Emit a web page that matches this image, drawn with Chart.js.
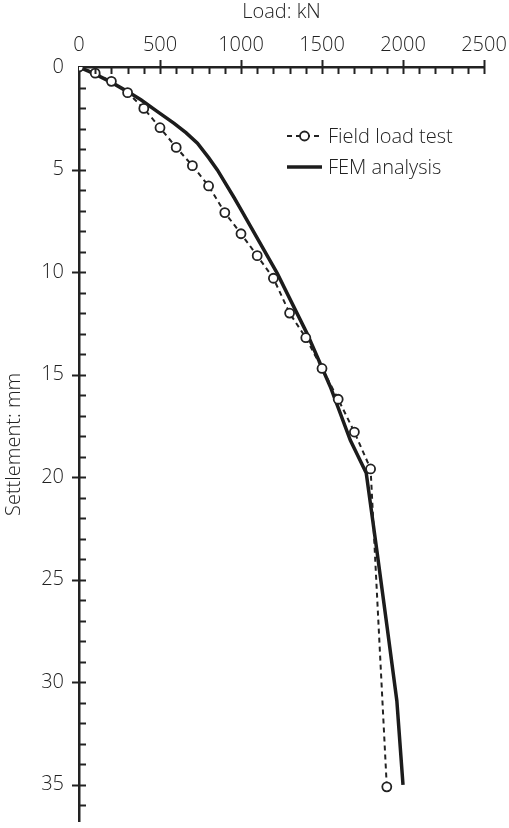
<!DOCTYPE html>
<html>
<head>
<meta charset="utf-8">
<script src="https://cdn.jsdelivr.net/npm/chart.js@4.4.0/dist/chart.umd.min.js"></script>
<style>
  html, body { margin: 0; padding: 0; background: #fff; }
  canvas { display: block; }
</style>
</head>
<body>
<canvas id="chart" width="509" height="828"></canvas>
<script>
"use strict";

// Field load test
var loadField = [0, 100, 200, 300, 400, 500, 600, 700, 800, 900, 1000, 1100, 1200, 1300, 1400, 1500, 1600, 1700, 1800, 1900];
var settleField = [0, 0.3, 0.7, 1.25, 2.02, 2.96, 3.92, 4.81, 5.8, 7.1, 8.13, 9.2, 10.3, 12.0, 13.2, 14.7, 16.2, 17.8, 19.6, 35.1];

// FEM analysis
var loadFem = [0, 100, 200, 300, 382, 480, 587, 660, 731, 800, 854, 956, 1000, 1223, 1408, 1552, 1675, 1773, 1839, 1900, 1962, 2000];
var settleFem = [0, 0.35, 0.75, 1.2, 1.6, 2.15, 2.75, 3.2, 3.72, 4.42, 5.02, 6.35, 6.95, 10.05, 13.0, 15.6, 18.2, 19.8, 23.6, 27.2, 30.9, 35.0];

var xTicks = [0, 500, 1000, 1500, 2000, 2500];
var yTicks = [0, 5, 10, 15, 20, 25, 30, 35];

var ink = "#222222";
var fontFamily = "'Open Sans', 'DejaVu Sans', sans-serif";

function toPoints(xs, ys) {
    return xs.map(function (x, i) { return { x: x, y: ys[i] }; });
}

function noPadding(scale) {
    scale.paddingLeft = 0;
    scale.paddingRight = 0;
    scale.paddingTop = 0;
    scale.paddingBottom = 0;
}

// Major ticks crossing the axis, minor ticks inside
var tickPlugin = {
    id: "axisTicks",
    afterDraw: function (chart) {
        var ctx = chart.ctx;
        var xs = chart.scales.x, ys = chart.scales.y;
        var top = chart.chartArea.top, left = chart.chartArea.left;
        ctx.save();
        ctx.strokeStyle = ink;
        ctx.lineWidth = 2;
        for (var v = 100; v <= 2500; v += 100) {
            var px = Math.round(xs.getPixelForValue(v)) + 0.5;
            var major = v % 500 === 0;
            ctx.beginPath();
            ctx.moveTo(px, major ? top - 7 : top);
            ctx.lineTo(px, top + 7);
            ctx.stroke();
        }
        for (var s = 1; s <= 36; s++) {
            var py = Math.round(ys.getPixelForValue(s)) + 0.5;
            var maj = s % 5 === 0;
            ctx.beginPath();
            ctx.moveTo(maj ? left - 7 : left, py);
            ctx.lineTo(left + 7, py);
            ctx.stroke();
        }
        ctx.restore();
    }
};

// Legend inside the plot area
var legendPlugin = {
    id: "innerLegend",
    afterDraw: function (chart) {
        var ctx = chart.ctx;
        var sets = chart.data.datasets;
        var x0 = 287, x1 = 322, tx = 328;
        var rows = [136, 167];
        ctx.save();
        ctx.font = "300 20px " + fontFamily;
        ctx.textBaseline = "middle";
        ctx.fillStyle = ink;
        sets.forEach(function (ds, i) {
            var y = rows[i];
            ctx.strokeStyle = ds.borderColor;
            ctx.lineWidth = ds.borderWidth;
            ctx.setLineDash(ds.borderDash || []);
            ctx.beginPath();
            ctx.moveTo(x0, y);
            ctx.lineTo(x1, y);
            ctx.stroke();
            ctx.setLineDash([]);
            if (ds.pointRadius > 0) {
                ctx.beginPath();
                ctx.arc((x0 + x1) / 2, y, ds.pointRadius, 0, Math.PI * 2);
                ctx.fillStyle = ds.pointBackgroundColor;
                ctx.fill();
                ctx.lineWidth = ds.pointBorderWidth;
                ctx.strokeStyle = ds.pointBorderColor;
                ctx.stroke();
                ctx.fillStyle = ink;
            }
            ctx.fillText(ds.label, tx, y + 1);
        });
        ctx.restore();
    }
};

var ctx = document.getElementById("chart").getContext("2d");
var chart = new Chart(ctx, {
    type: "line",
    data: {
        datasets: [{
            label: "Field load test",
            data: toPoints(loadField, settleField),
            borderColor: ink,
            borderWidth: 2,
            borderDash: [5, 4],
            pointRadius: 4.5,
            pointBackgroundColor: "#ffffff",
            pointBorderColor: ink,
            pointBorderWidth: 1.8,
            tension: 0,
            order: 0
        }, {
            label: "FEM analysis",
            data: toPoints(loadFem, settleFem),
            borderColor: "#1c1c1c",
            borderWidth: 3.5,
            pointRadius: 0,
            tension: 0,
            order: 1
        }]
    },
    options: {
        responsive: false,
        animation: false,
        layout: { padding: { top: 0, right: 25, bottom: 3, left: 0 } },
        plugins: {
            legend: { display: false },
            tooltip: { enabled: false }
        },
        scales: {
            x: {
                type: "linear",
                position: "top",
                min: 0,
                max: 2500,
                afterBuildTicks: function (scale) {
                    scale.ticks = xTicks.map(function (v) { return { value: v }; });
                },
                afterFit: function (scale) {
                    scale.height = 67;
                    noPadding(scale);
                },
                grid: { display: false, drawTicks: false },
                border: { display: true, color: ink, width: 2.5 },
                ticks: {
                    color: ink,
                    padding: 10,
                    maxRotation: 0,
                    font: { family: fontFamily, size: 20, weight: 300 },
                    callback: function (v) { return String(v); }
                },
                title: {
                    display: true,
                    text: "Load: kN",
                    color: ink,
                    padding: { top: 0, bottom: 0 },
                    font: { family: fontFamily, size: 20, weight: 300 }
                }
            },
            y: {
                type: "linear",
                reverse: true,
                min: 0,
                max: 36.8,
                afterBuildTicks: function (scale) {
                    scale.ticks = yTicks.map(function (v) { return { value: v }; });
                },
                afterFit: function (scale) {
                    scale.width = 79;
                    noPadding(scale);
                },
                grid: { display: false, drawTicks: false },
                border: { display: true, color: ink, width: 2.5 },
                ticks: {
                    color: ink,
                    padding: 15,
                    font: { family: fontFamily, size: 20, weight: 300 },
                    callback: function (v) { return String(v); }
                },
                title: {
                    display: true,
                    text: "Settlement: mm",
                    color: ink,
                    padding: { top: 2, bottom: 0 },
                    font: { family: fontFamily, size: 20, weight: 300 }
                }
            }
        }
    },
    plugins: [tickPlugin, legendPlugin]
});
</script>
</body>
</html>
